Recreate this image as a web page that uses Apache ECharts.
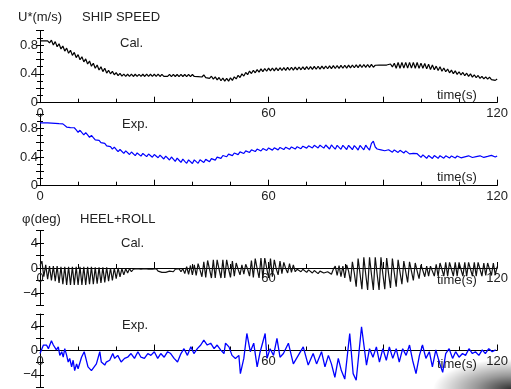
<!DOCTYPE html>
<html>
<head>
<meta charset="utf-8">
<script src="https://cdn.jsdelivr.net/npm/echarts@6.0.0/dist/echarts.min.js"></script>
<style>
  html, body { margin: 0; padding: 0; background: #fff; }
  #chart { width: 511px; height: 389px; }
</style>
</head>
<body>
<div id="chart"></div>
<script>
// sample step (s) for the evenly sampled series
const STEP = 0.5

// ship speed, calculation (m/s), one row = 10 s
const speedCal = [
  .860,.840,.860,.840,.860,.830,.868,.802,.848,.777,.818,.747,.788,.717,.758,.687,.728,.657,.698,.627,
  .668,.597,.638,.567,.608,.537,.578,.507,.548,.479,.523,.454,.498,.432,.478,.412,.450,.402,.435,.388,
  .418,.377,.408,.370,.398,.366,.395,.365,.396,.364,.395,.366,.394,.365,.395,.364,.396,.365,.395,.366,
  .395,.365,.396,.364,.394,.366,.393,.365,.394,.363,.393,.364,.392,.363,.393,.364,.392,.363,.393,.363,
  .392,.364,.390,.361,.388,.357,.385,.349,.376,.337,.368,.327,.358,.317,.350,.305,.342,.300,.338,.300,
  .345,.310,.360,.330,.380,.350,.400,.370,.420,.390,.440,.405,.450,.415,.460,.425,.470,.432,.475,.437,
  .480,.441,.482,.443,.484,.445,.486,.447,.488,.449,.490,.451,.492,.453,.494,.455,.496,.457,.498,.459,
  .500,.461,.502,.463,.504,.465,.506,.467,.508,.469,.510,.471,.512,.473,.514,.475,.516,.477,.518,.479,
  .520,.481,.522,.483,.524,.485,.526,.487,.528,.489,.530,.490,.531,.491,.532,.492,.520,.506,.521,.507,
  .522,.508,.523,.509,.537,.497,.548,.478,.559,.479,.560,.480,.560,.480,.560,.480,.560,.479,.558,.477,
  .550,.478,.545,.470,.535,.460,.525,.457,.508,.447,.498,.437,.482,.430,.467,.415,.452,.403,.442,.393,
  .430,.385,.420,.375,.410,.365,.400,.355,.388,.347,.378,.337,.366,.331,.360,.327,.355,.320,.345,.310,
  .330
]

// ship speed, experiment (m/s)
const speedExp = [
  .875,.865,.875,.865,.875,.865,.873,.862,.870,.857,.865,.850,.862,.840,.818,.835,.810,.785,.808,.778,
  .745,.773,.740,.710,.740,.708,.675,.703,.670,.638,.665,.633,.600,.625,.590,.555,.580,.545,.510,.538,
  .505,.475,.505,.478,.450,.485,.460,.435,.470,.445,.420,.457,.435,.412,.450,.428,.405,.442,.420,.398,
  .435,.412,.390,.427,.400,.373,.412,.385,.358,.400,.370,.340,.385,.355,.325,.370,.340,.312,.360,.335,
  .310,.360,.335,.312,.362,.342,.323,.367,.350,.335,.378,.367,.357,.398,.390,.381,.421,.412,.404,.441,
  .430,.419,.456,.445,.434,.471,.460,.449,.486,.475,.464,.501,.490,.476,.511,.497,.484,.518,.505,.491,
  .526,.511,.496,.529,.515,.500,.533,.518,.504,.537,.522,.507,.541,.526,.511,.544,.530,.516,.551,.537,
  .524,.557,.542,.527,.563,.545,.527,.565,.545,.524,.568,.542,.512,.568,.538,.509,.563,.535,.507,.563,
  .535,.505,.563,.533,.502,.560,.530,.498,.562,.530,.500,.565,.528,.498,.590,.620,.540,.512,.530,.500,
  .506,.488,.471,.502,.485,.468,.499,.482,.464,.494,.475,.456,.486,.465,.444,.471,.450,.424,.446,.422,
  .395,.430,.405,.382,.420,.400,.380,.420,.400,.382,.418,.400,.383,.417,.400,.385,.415,.400,.386,.414,
  .400,.389,.414,.403,.393,.417,.405,.393,.417,.405,.393,.417,.405,.394,.419,.408,.398,.423,.412,.401,
  .415
]

// heel + roll, calculation (deg)
const rollCal = [
  0.4,1.1,-1.4,0.5,-1.8,0.3,-2.0,0.3,-2.1,0.3,-2.4,0.2,-2.6,0.2,-2.7,0.2,-2.7,0.2,-2.7,0.2,
  -2.7,0.2,-2.7,0.2,-2.7,0.2,-2.6,0.2,-2.6,0.1,-2.5,0.1,-2.4,0.1,-2.3,0.1,-2.1,0.0,-2.0,0.0,
  -1.7,0.0,-1.4,-0.1,-1.1,-0.1,-0.8,-0.1,-0.6,-0.2,-0.5,-0.1,-0.4,-0.2,-0.5,-0.1,-0.4,-0.2,-0.5,-0.2,
  -0.3,-0.1,-0.5,-0.6,-0.7,-0.5,-0.7,-0.4,-0.5,-0.3,-0.6,-0.2,-0.5,-0.1,-0.6,-0.1,-0.9,0.2,-1.0,0.4,
  -1.1,0.5,-1.2,0.7,-0.3,-1.4,1.0,-1.5,1.2,-0.2,-1.6,1.3,-1.6,1.3,-0.2,-1.6,1.3,-1.6,1.3,-0.2,
  -1.5,1.1,-1.3,0.8,-0.2,-1.1,0.5,-1.0,0.6,-0.2,-1.3,1.2,-1.5,1.5,-0.1,-1.6,1.6,-1.6,1.6,0.0,
  -1.6,1.5,-1.4,1.3,-0.1,-1.1,1.1,-0.9,0.9,-0.1,-0.8,0.7,-0.7,0.5,-0.6,-0.2,-0.3,-0.6,-0.2,-0.5,
  -0.7,-0.3,-0.5,-0.8,-0.4,-0.6,-0.9,-0.5,-0.4,-0.8,-1.0,-0.6,-0.3,-1.0,-0.2,0.3,-1.2,0.4,-1.4,0.3,
  -1.6,0.5,-0.5,-2.2,1.0,-0.8,-3.0,1.5,-0.9,-3.4,1.7,-1.0,-3.5,1.7,-1.0,-3.5,1.7,-1.0,-3.5,1.7,
  -1.0,-3.4,1.6,-0.9,-3.2,1.5,-0.8,-3.0,1.3,-0.7,-2.6,1.1,-0.6,-2.3,1.0,-0.5,-2.0,0.8,-0.5,-1.7,
  0.5,-0.4,-1.4,0.3,-1.3,0.3,-0.5,-1.3,0.6,-1.3,0.8,-0.2,-1.3,0.9,-1.3,0.9,-0.2,-1.3,0.9,-1.3,
  0.9,-0.2,-1.3,0.9,-1.3,0.9,-0.2,-1.3,0.9,-1.3,0.9,-0.2,-1.3,0.8,-1.2,0.8,-0.2,-1.2,0.8,-1.1,
  0.2
]

// heel + roll, experiment: read at uneven times
const rollExpT = [
  0,0.9,1.7,2.2,3.0,3.5,3.9,4.3,4.8,5.2, 5.7,6.1,6.5,7.0,7.4,7.8,8.3,8.7,9.1,9.6,
  10.0,10.9,11.6,12.6,13.5,13.9,14.8,15.7,16.1,17.0, 17.4,18.3,19.1,19.6,20.4,21.3,22.2,23.0,23.9,24.8,
  25.7,26.5,27.4,28.3,29.1,30.0,30.9,31.7,32.6,33.5, 34.3,35.2,36.1,37.0,37.8,38.7,39.6,40.4,41.3,42.2,
  43.0,43.9,44.8,45.7,46.5,47.4,48.3,48.7,49.6,50.4, 51.3,52.2,52.6,53.5,54.3,55.2,56.1,57.0,57.8,59.1,
  59.6,60.4,61.3,62.2,63.0,63.9,65.2,66.5,67.8,69.1, 70.4,71.7,72.6,73.9,74.8,75.7,76.5,77.4,78.3,79.1,
  80.0,81.3,82.2,83.0,84.4,85.7,86.5,87.4,88.3,89.1, 90.0,90.9,91.7,92.6,93.5,94.3,95.2,96.1,97.0,97.8,
  98.7,99.6,100.4,101.3,102.2,103.0,103.9,104.8,105.7,106.5, 107.4,108.3,109.1,110.0,110.9,111.7,112.6,113.5,114.3,115.2,
  116.1,116.9,117.8,118.7,119.6
]
const rollExpV = [
  -0.5,0.9,0.9,0.3,1.6,0.9,1.2,0.1,0.6,-0.8, -0.2,-1.1,0.3,-0.8,-1.9,-1.3,-2.7,-1.6,-3.3,-2.2,
  -3.0,-1.1,-0.2,-2.7,-3.3,-3.6,-2.2,-0.2,-1.9,-2.4, -1.9,-1.6,-0.5,-1.3,-0.8,-1.9,-1.3,-1.1,-0.5,-1.3,
  -0.2,-1.1,-1.3,-0.5,-0.8,-0.2,-1.3,-0.5,-1.1,-0.2, -0.5,-1.3,-1.9,-0.5,0.3,-0.8,0.6,-0.5,0.3,0.9,
  1.7,0.9,1.2,0.3,0.9,0.1,-0.5,1.2,0.6,-0.8, -1.3,-0.8,-3.8,-1.3,2.8,-0.2,1.2,-2.7,-0.2,2.8,
  -1.3,0.3,-0.8,2.0,-1.1,-0.5,1.2,-2.2,-0.8,0.6, -2.4,-0.5,-2.2,-0.2,-2.7,-0.8,-2.2,-4.4,-1.3,-3.3,
  -4.7,2.8,-3.8,-4.9,3.9,-2.4,0.3,-1.1,0.6,-1.9, 0.3,-1.6,0.6,-1.3,0.3,-1.9,0.3,-0.8,0.9,-1.6,
  -3.8,-0.8,0.9,-1.3,-0.2,-2.7,0.1,-1.9,-3.6,-0.5, 0.3,-1.3,-0.2,-1.1,-0.5,-0.8,0.3,-0.5,-0.2,-0.8,
  0.1,-0.5,0.3,-0.2,0.1
]

const FONT = 'Liberation Sans, Arial, sans-serif'
const INK = '#000'

const onStep = arr => arr.map((v, i) => [i * STEP, v])
const expRoll = rollExpT.map((t, i) => [t, rollExpV[i]])

const grids = [
  { left: 40, top: 30.7, width: 460, height: 72 },
  { left: 40, top: 114, width: 460, height: 71.7 },
  { left: 40, top: 230.5, width: 460, height: 75 },
  { left: 40, top: 314, width: 460, height: 73 }
]
// roll panels carry their time axis through the middle (y = 0)
const xOffsets = [0, 0, -37.5, -36.5]

const xAxisFor = i => ({
  type: 'value', gridIndex: i, min: 0, max: 120, interval: 30,
  position: 'bottom', offset: xOffsets[i],
  axisLine: { onZero: false, lineStyle: { color: INK, width: 1 } },
  axisTick: { inside: true, length: 6, lineStyle: { color: INK } },
  minorTick: { show: true, splitNumber: 3, length: 4, lineStyle: { color: INK } },
  splitLine: { show: false },
  axisLabel: {
    margin: 4, color: '#222', fontSize: 13, fontFamily: FONT,
    showMinLabel: true, showMaxLabel: true,
    formatter: v => (v % 60 === 0 ? String(v) : '')
  }
})

const speedLabel = v => {
  const k = Math.round(v * 10)
  if (k % 4 !== 0 || k > 8) return ''
  return k === 0 ? '0' : (k / 10).toFixed(1)
}
const rollLabel = v => {
  const k = Math.round(v)
  if (k % 4 !== 0 || Math.abs(k) > 4) return ''
  return k < 0 ? '\u2212' + Math.abs(k) : String(k)
}

// main y axes (outside ticks + labels)
const yMain = (i, min, max, interval, minor, fmt) => ({
  type: 'value', gridIndex: i, position: 'left', min, max, interval,
  axisLine: { show: true, lineStyle: { color: INK, width: 1 } },
  axisTick: { show: true, length: 4, lineStyle: { color: INK } },
  minorTick: { show: minor > 0, splitNumber: minor || 1, length: 3, lineStyle: { color: INK } },
  splitLine: { show: false },
  axisLabel: { margin: 2, color: '#222', fontSize: 13, fontFamily: FONT, formatter: fmt }
})
// twin axes so the ticks cross the axis line
const yTwin = (i, min, max, interval, minor) => ({
  type: 'value', gridIndex: i, position: 'left', min, max, interval,
  axisLine: { show: false },
  axisTick: { show: true, inside: true, length: 4, lineStyle: { color: INK } },
  minorTick: { show: minor > 0, splitNumber: minor || 1, length: 3, lineStyle: { color: INK } },
  splitLine: { show: false },
  axisLabel: { show: false }
})

const texts = [
  ['U*(m/s)', 18, 17.5], ['SHIP SPEED', 82, 17.5], ['Cal.', 120, 43], ['time(s)', 437, 95],
  ['Exp.', 122, 124], ['time(s)', 437, 177],
  ['\u03c6(deg)', 22, 219], ['HEEL+ROLL', 80, 219], ['Cal.', 121, 243], ['time(s)', 437, 280],
  ['Exp.', 122, 325], ['time(s)', 437, 364]
]

const line = (i, data, color, width) => ({
  type: 'line', xAxisIndex: i, yAxisIndex: i, data,
  showSymbol: false, symbol: 'none', z: 3,
  lineStyle: { color, width },
  emphasis: { disabled: true }
})

const chart = echarts.init(document.getElementById('chart'))
chart.setOption({
  animation: false,
  grid: grids,
  xAxis: [0, 1, 2, 3].map(xAxisFor),
  yAxis: [
    yMain(0, 0, 1, 0.2, 2, speedLabel),
    yMain(1, 0, 1, 0.2, 2, speedLabel),
    yMain(2, -6, 6, 2, 0, rollLabel),
    yMain(3, -6, 6, 2, 0, rollLabel),
    yTwin(0, 0, 1, 0.2, 2),
    yTwin(1, 0, 1, 0.2, 2),
    yTwin(2, -6, 6, 2, 0),
    yTwin(3, -6, 6, 2, 0)
  ],
  graphic: texts.map(([text, x, y]) => ({
    type: 'text', x, y, z: 1,
    style: { text, fill: '#222', font: '13px ' + FONT, verticalAlign: 'middle' }
  })).concat([{
    // page-curl shadow in the lower right corner
    type: 'circle', z: 10, silent: true,
    x: 511, y: 389, scaleX: 2.6, scaleY: 1,
    shape: { cx: 0, cy: 0, r: 30 },
    style: {
      fill: {
        type: 'radial', x: 0.5, y: 0.5, r: 0.5,
        colorStops: [
          { offset: 0, color: 'rgba(0,0,0,0.8)' },
          { offset: 0.45, color: 'rgba(0,0,0,0.4)' },
          { offset: 1, color: 'rgba(0,0,0,0)' }
        ]
      }
    }
  }]),
  series: [
    line(0, onStep(speedCal), '#000', 1.2),
    line(1, onStep(speedExp), '#0000ff', 1.2),
    line(2, onStep(rollCal), '#111', 1.2),
    line(3, expRoll, '#0000ff', 1.3)
  ]
})
</script>
</body>
</html>
